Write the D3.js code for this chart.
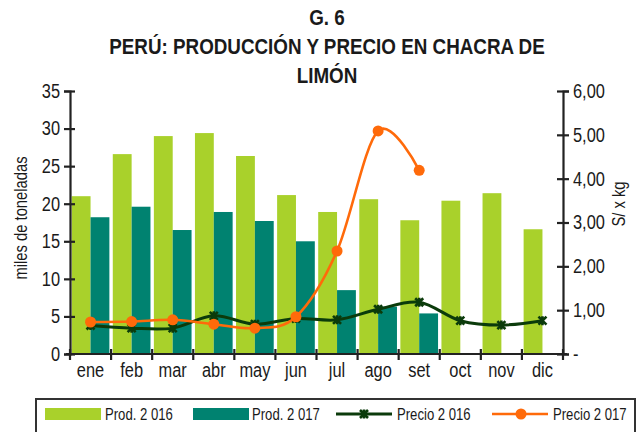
<!DOCTYPE html>
<html><head><meta charset="utf-8">
<script src="https://cdn.jsdelivr.net/npm/d3@7"></script>
<style>body{margin:0;background:#fff} svg{display:block}</style>
</head><body><svg id="c" width="640" height="432"></svg>
<script>
const months = ["ene","feb","mar","abr","may","jun","jul","ago","set","oct","nov","dic"];
const prod2016 = [21.0,26.6,29.0,29.4,26.35,21.15,18.9,20.6,17.8,20.4,21.4,16.6];
const prod2017 = [18.2,19.6,16.5,18.9,17.7,15.0,8.5,6.3,5.4];
const precio2016 = [0.65,0.59,0.59,0.87,0.68,0.81,0.78,1.02,1.18,0.76,0.66,0.76];
const precio2017 = [0.73,0.74,0.78,0.68,0.59,0.85,2.35,5.09,4.19];
const leftTicks = [0,5,10,15,20,25,30,35];
const rightTicks = [0,1,2,3,4,5,6];
const rightTickLabels = ["-","1,00","2,00","3,00","4,00","5,00","6,00"];
const titleLines = ["G. 6","PERÚ: PRODUCCIÓN Y PRECIO EN CHACRA DE","LIMÓN"];
const legendLabels = ["Prod. 2 016","Prod. 2 017","Precio 2 016","Precio 2 017"];

const C16 = "#A9D12B", C17 = "#008270", CL16 = "#0B3B0B", CL17 = "#FF6A0A";
const FONT = "'Liberation Sans Narrow','Arial Narrow','Liberation Sans',sans-serif";
const svg = d3.select("#c");
const L = 70, R = 563, T = 91, B = 354;

function narrow(sel, f) {
  sel.each(function() {
    const len = this.getComputedTextLength();
    this.setAttribute("textLength", (len * f).toFixed(2));
    this.setAttribute("lengthAdjust", "spacingAndGlyphs");
  });
}

const x = d3.scaleBand().domain(months).range([L, R]).padding(0);
const x1 = d3.scaleBand().domain(["a","b"]).range([1.7, x.bandwidth() - 1.7]).padding(0);
const yL = d3.scaleLinear().domain([0, 35]).range([B, T]);
const yR = d3.scaleLinear().domain([0, 6]).range([B, T]);

// title
svg.append("g").selectAll("text").data(titleLines).join("text")
  .attr("x", 327).attr("y", (d,i) => 25 + i*29)
  .attr("text-anchor","middle").attr("font-family", FONT).attr("font-weight","bold")
  .attr("font-size", 22).attr("fill","#1a1a1a").text(d => d)
  .call(narrow, 0.855);

// bars
svg.append("g").selectAll("rect").data(prod2016).join("rect")
  .attr("x", (d,i) => x(months[i]) + x1("a")).attr("width", x1.bandwidth())
  .attr("y", d => yL(d)).attr("height", d => B - yL(d)).attr("fill", C16);
svg.append("g").selectAll("rect").data(prod2017).join("rect")
  .attr("x", (d,i) => x(months[i]) + x1("b")).attr("width", x1.bandwidth())
  .attr("y", d => yL(d)).attr("height", d => B - yL(d)).attr("fill", C17);

// axes
const axL = svg.append("g").attr("transform", `translate(${L},0)`)
  .call(d3.axisLeft(yL).tickValues(leftTicks).tickSize(6).tickPadding(4));
axL.selectAll(".tick line").attr("x1", 5);
const axR = svg.append("g").attr("transform", `translate(${R},0)`)
  .call(d3.axisRight(yR).tickValues(rightTicks).tickFormat((d,i) => rightTickLabels[i]).tickSize(6).tickPadding(4));
axR.selectAll(".tick line").attr("x1", -6);
const axB = svg.append("g").attr("transform", `translate(0,${B})`)
  .call(d3.axisBottom(x).tickSize(0).tickPadding(9));
[...months.map(m => x(m)), R].forEach(v => {
  axB.append("line").attr("x1", v).attr("x2", v).attr("y1", -5).attr("y2", 6);
});
[axL, axR, axB].forEach(a => {
  a.selectAll("path.domain").attr("stroke", "#222").attr("stroke-width", 2.2);
  a.selectAll("line").attr("stroke", "#222").attr("stroke-width", 2.2);
  a.selectAll("text").attr("font-family", FONT).attr("font-size", 20).attr("fill", "#1a1a1a")
    .call(narrow, 0.82);
});
axB.select("path.domain").attr("d", `M${L-4},0H${R+4}`);

// axis titles
svg.append("text").attr("transform", "translate(27,218) rotate(-90)")
  .attr("text-anchor","middle").attr("font-family", FONT).attr("font-size", 18)
  .attr("fill","#1a1a1a").text("miles de toneladas").call(narrow, 0.82);
svg.append("text").attr("transform", "translate(625,204) rotate(-90)")
  .attr("text-anchor","middle").attr("font-family", FONT).attr("font-size", 18)
  .attr("fill","#1a1a1a").text("S/ x kg").call(narrow, 0.82);

// lines
const cx = i => x(months[i]) + x.bandwidth()/2;
const line = d3.line().x((d,i) => cx(i)).y(d => yR(d)).curve(d3.curveCatmullRom.alpha(0));
const xMark = "M-4,-4L4,4M-4,4L4,-4M0,-4.5L0,4.5";
svg.append("path").datum(precio2016).attr("d", line).attr("fill","none")
  .attr("stroke", CL16).attr("stroke-width", 3);
svg.append("g").selectAll("path").data(precio2016).join("path")
  .attr("transform", (d,i) => `translate(${cx(i)},${yR(d)})`)
  .attr("d", xMark).attr("stroke", CL16).attr("stroke-width", 2.6).attr("fill","none");
svg.append("path").datum(precio2017).attr("d", line).attr("fill","none")
  .attr("stroke", CL17).attr("stroke-width", 2.6);
svg.append("g").selectAll("circle").data(precio2017).join("circle")
  .attr("cx", (d,i) => cx(i)).attr("cy", d => yR(d)).attr("r", 5.5).attr("fill", CL17);

// legend
const lg = svg.append("g");
lg.append("rect").attr("x", 36).attr("y", 399).attr("width", 599).attr("height", 60)
  .attr("fill","none").attr("stroke","#333").attr("stroke-width", 2);
const ly = 414;
lg.append("rect").attr("x", 45).attr("y", ly-6).attr("width", 56).attr("height", 12).attr("fill", C16);
lg.append("rect").attr("x", 193).attr("y", ly-6).attr("width", 56).attr("height", 12).attr("fill", C17);
lg.append("line").attr("x1", 336).attr("x2", 392).attr("y1", ly).attr("y2", ly).attr("stroke", CL16).attr("stroke-width", 3);
lg.append("path").attr("transform", `translate(364,${ly})`).attr("d", xMark).attr("stroke", CL16).attr("stroke-width", 2.6);
lg.append("line").attr("x1", 492).attr("x2", 548).attr("y1", ly).attr("y2", ly).attr("stroke", CL17).attr("stroke-width", 2.6);
lg.append("circle").attr("cx", 521).attr("cy", ly).attr("r", 5.5).attr("fill", CL17);
lg.selectAll("text.l").data(legendLabels).join("text").attr("class","l")
  .attr("x", (d,i) => [105,252,397,553][i]).attr("y", ly + 6)
  .attr("font-family", FONT).attr("font-size", 16).attr("fill","#1a1a1a").text(d => d)
  .call(narrow, 0.82);
</script></body></html>
